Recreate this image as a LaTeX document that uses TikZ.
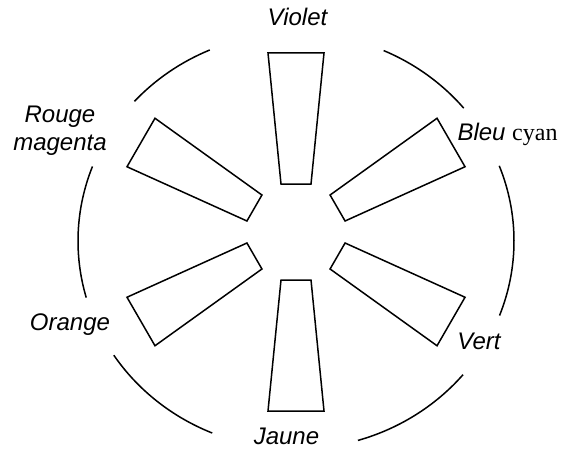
\documentclass[tikz,border=0pt]{standalone}
\usepackage{fontspec}
\setmainfont{Liberation Serif}
\setsansfont{Liberation Sans}
\begin{document}
\begin{tikzpicture}[x=1pt,y=1pt,
  petal/.style={draw=black,line width=1.5pt,line join=miter},
  ring/.style={draw=black,line width=1.5pt},
  lab/.style={font=\fontsize{24}{27}\selectfont\sffamily\itshape,inner sep=0pt,anchor=base}]
\useasboundingbox (0,0) rectangle (561,448);
\coordinate (C) at (296,216);
\coordinate (E) at (296,207);
\foreach \a in {90,30,-30,-90,-150,150}{
  \draw[petal,shift={(C)},rotate=\a] (48,-15) -- (179,-28) -- (179,28) -- (48,15) -- cycle;
}
\foreach \s/\e in {113.3/137.8,159/195.8,213.3/247.4,286.5/320,339/381.2,39.7/66.3}{
  \draw[ring] ([shift={(\s:218 and 208)}]E) arc[start angle=\s,end angle=\e,x radius=218,y radius=208];
}
\node[lab] (violet) at (297.5,422) {Violet};
\node[lab] (bleu) at (507.5,308) {Bleu {\rmfamily\upshape cyan}};
\node[lab] (rouge) at (60,326) {Rouge};
\node[lab] (magenta) at (60,298) {magenta};
\node[lab] (orange) at (70,118) {Orange};
\node[lab] (vert) at (479,99) {Vert};
\node[lab] (jaune) at (286.5,4) {Jaune};
\end{tikzpicture}
\end{document}
